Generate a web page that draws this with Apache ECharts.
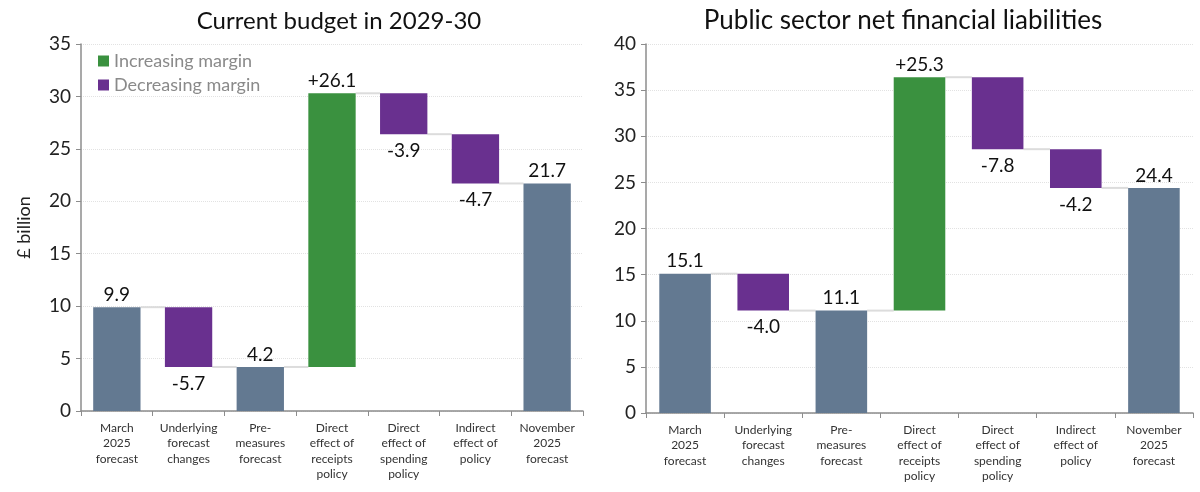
<!DOCTYPE html>
<html><head><meta charset="utf-8">
<script src="https://cdn.jsdelivr.net/npm/echarts@6/dist/echarts.min.js"></script>
<style>html,body{margin:0;padding:0;background:#fff}#c{width:1200px;height:492px}</style>
</head><body><div id="c"></div>
<script>
const categories = ['March\n2025\nforecast','Underlying\nforecast\nchanges','Pre-\nmeasures\nforecast','Direct\neffect of\nreceipts\npolicy','Direct\neffect of\nspending\npolicy','Indirect\neffect of\npolicy','November\n2025\nforecast'];
const kinds = ['total','dec','total','inc','dec','dec','total'];
const budgetValues = [9.9, -5.7, 4.2, 26.1, -3.9, -4.7, 21.7];
const psnflValues = [15.1, -4.0, 11.1, 25.3, -7.8, -4.2, 24.4];
const titles = ['Current budget in 2029-30', 'Public sector net financial liabilities'];
const yMax = [35, 40];

const C_TOTAL = '#637991', C_INC = '#3a913f', C_DEC = '#69308f';
const FONT = 'Lato';
const BW = 0.66;

function build(values) {
  let level = 0;
  const base = [], tot = [], inc = [], dec = [], levels = [];
  values.forEach((v, i) => {
    const k = kinds[i];
    if (k === 'total') { base.push(0); tot.push(v); inc.push('-'); dec.push('-'); level = v; }
    else if (k === 'inc') { base.push(level); inc.push(v); tot.push('-'); dec.push('-'); level += v; }
    else { level += v; base.push(level); dec.push(-v); tot.push('-'); inc.push('-'); }
    levels.push([i, Math.round(level * 10) / 10]);
  });
  return { base, tot, inc, dec, levels: levels.slice(0, values.length - 1) };
}

const datasets = [build(budgetValues), build(psnflValues)];
const valueSets = [budgetValues, psnflValues];

const series = [];
datasets.forEach((d, gi) => {
  const vals = valueSets[gi];
  const common = { type: 'bar', stack: 's' + gi, xAxisIndex: gi, yAxisIndex: gi, barWidth: (BW * 100) + '%' };
  series.push(Object.assign({}, common, { name: 'base' + gi, data: d.base, itemStyle: { color: 'transparent' }, silent: true }));
  const lbl = (pos, fmt, dist) => ({ show: true, position: pos, distance: dist, color: '#111', fontSize: 19, fontFamily: FONT, formatter: fmt });
  series.push(Object.assign({}, common, { name: 'Totals' + gi, data: d.tot, itemStyle: { color: C_TOTAL },
    label: lbl('top', p => vals[p.dataIndex].toFixed(1), 3) }));
  series.push(Object.assign({}, common, { name: 'Increasing margin', data: d.inc, itemStyle: { color: C_INC },
    label: lbl('top', p => '+' + vals[p.dataIndex].toFixed(1), 3) }));
  series.push(Object.assign({}, common, { name: 'Decreasing margin', data: d.dec, itemStyle: { color: C_DEC },
    label: lbl('bottom', p => vals[p.dataIndex].toFixed(1), 7) }));
  series.push({
    type: 'custom', xAxisIndex: gi, yAxisIndex: gi, data: d.levels, silent: true, z: 1,
    renderItem: (params, api) => {
      const p1 = api.coord([api.value(0), api.value(1)]);
      const p2 = api.coord([api.value(0) + 1, api.value(1)]);
      const band = api.size([1, 0])[0];
      return { type: 'line', shape: { x1: p1[0] + band * BW / 2, y1: p1[1], x2: p2[0] - band * BW / 2, y2: p1[1] },
        style: { stroke: '#dcdcdc', lineWidth: 2 } };
    }
  });
});

const grids = [
  { left: 81, right: 617, top: 44, bottom: 81 },
  { left: 646, right: 7, top: 44, bottom: 79 }
];

const xAxes = grids.map((g, i) => ({
  type: 'category', gridIndex: i, data: categories,
  axisLine: { lineStyle: { color: '#8c8c8c', width: 1.5 } },
  axisTick: { show: true, length: 5, lineStyle: { color: '#8c8c8c' } },
  axisLabel: { color: '#333', fontSize: 12, fontFamily: FONT, lineHeight: 15.5, margin: 9, interval: 0 }
}));
const yAxes = grids.map((g, i) => ({
  type: 'value', gridIndex: i, min: 0, max: yMax[i], interval: 5,
  name: i === 0 ? '£ billion' : '', nameLocation: 'middle', nameGap: 48, nameRotate: 90,
  nameTextStyle: { color: '#222', fontSize: 18, fontFamily: FONT },
  axisLine: { show: true, lineStyle: { color: '#8c8c8c', width: 1.5 } },
  axisTick: { show: true, length: 5, lineStyle: { color: '#8c8c8c' } },
  axisLabel: { color: '#222', fontSize: 19, fontFamily: FONT, margin: 10 },
  splitLine: { show: true, lineStyle: { color: '#e2e2e2', type: 'dotted', width: 1 } }
}));

const chart = echarts.init(document.getElementById('c'));
chart.setOption({
  animation: false,
  title: [
    { text: titles[0], left: 334, top: 4, textAlign: 'center', textStyle: { fontSize: 24, fontWeight: 'normal', color: '#111', fontFamily: FONT } },
    { text: titles[1], left: 898, top: 3, textAlign: 'center', textStyle: { fontSize: 26, fontWeight: 'normal', color: '#111', fontFamily: FONT } }
  ],
  legend: { data: ['Increasing margin', 'Decreasing margin'], left: 93, top: 47, orient: 'vertical', icon: 'rect',
    itemWidth: 11, itemHeight: 11, itemGap: 6, textStyle: { color: '#8a8a8a', fontSize: 18, fontFamily: FONT } },
  grid: grids, xAxis: xAxes, yAxis: yAxes, series: series
});
</script></body></html>
